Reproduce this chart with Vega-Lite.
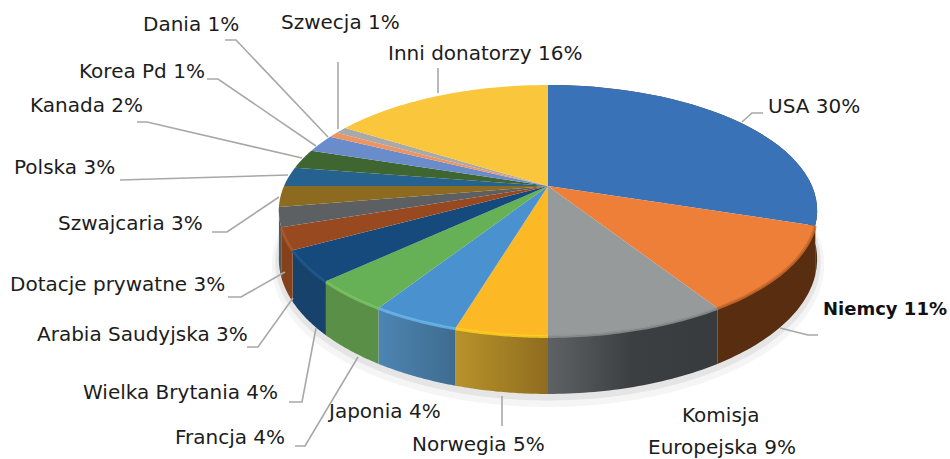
{"$schema":"https://vega.github.io/schema/vega-lite/v6.json","width":950,"height":459,"padding":0,"autosize":{"type":"none"},"background":"white","view":{"stroke":null},
"datasets":{
"slices":[{"ord":1,"name":"USA","share":30},{"ord":2,"name":"Niemcy","share":11},{"ord":3,"name":"Komisja Europejska","share":9},{"ord":4,"name":"Norwegia","share":4.6},{"ord":5,"name":"Japonia","share":4.4},{"ord":6,"name":"Francja","share":4},{"ord":7,"name":"Wielka Brytania","share":4},{"ord":8,"name":"Arabia Saudyjska","share":2.8},{"ord":9,"name":"Dotacje prywatne","share":2.5},{"ord":10,"name":"Szwajcaria","share":2.7},{"ord":11,"name":"Polska","share":2.5},{"ord":12,"name":"Kanada","share":2.5},{"ord":13,"name":"Korea Pd","share":2.3},{"ord":14,"name":"Dania","share":0.7},{"ord":15,"name":"Szwecja","share":0.9},{"ord":16,"name":"Inni donatorzy","share":16.1}],
"labels":[{"t":"USA 30%","x":768,"y":107},{"t":"Niemcy 11%","x":823,"y":310,"b":1},{"t":"Komisja","x":682,"y":416},{"t":"Europejska 9%","x":648,"y":448},{"t":"Norwegia 5%","x":412,"y":445},{"t":"Japonia 4%","x":329,"y":412},{"t":"Francja 4%","x":175,"y":438},{"t":"Wielka Brytania 4%","x":83,"y":393},{"t":"Arabia Saudyjska 3%","x":37,"y":335},{"t":"Dotacje prywatne 3%","x":10,"y":285},{"t":"Szwajcaria 3%","x":58,"y":224},{"t":"Polska 3%","x":14,"y":168},{"t":"Kanada 2%","x":30,"y":106},{"t":"Korea Pd 1%","x":79,"y":72},{"t":"Dania 1%","x":143,"y":25},{"t":"Szwecja 1%","x":281,"y":23},{"t":"Inni donatorzy 16%","x":388,"y":54}],
"leaders":[{"n":"USA","i":0,"x":742,"y":122},{"n":"USA","i":1,"x":752,"y":113},{"n":"USA","i":2,"x":763,"y":113},{"n":"Niemcy","i":0,"x":780,"y":328},{"n":"Niemcy","i":1,"x":808,"y":335},{"n":"Niemcy","i":2,"x":818,"y":335},{"n":"Norwegia","i":0,"x":502,"y":396},{"n":"Norwegia","i":1,"x":502,"y":426},{"n":"Francja","i":0,"x":358,"y":357},{"n":"Francja","i":1,"x":305,"y":446},{"n":"Francja","i":2,"x":295,"y":446},{"n":"WB","i":0,"x":316,"y":328},{"n":"WB","i":1,"x":302,"y":402},{"n":"WB","i":2,"x":289,"y":402},{"n":"Arabia","i":0,"x":293,"y":298},{"n":"Arabia","i":1,"x":258,"y":347},{"n":"Arabia","i":2,"x":247,"y":347},{"n":"Dotacje","i":0,"x":285,"y":272},{"n":"Dotacje","i":1,"x":241,"y":297},{"n":"Dotacje","i":2,"x":228,"y":297},{"n":"Szwajcaria","i":0,"x":279,"y":197},{"n":"Szwajcaria","i":1,"x":227,"y":232},{"n":"Szwajcaria","i":2,"x":212,"y":232},{"n":"Polska","i":0,"x":288,"y":175},{"n":"Polska","i":1,"x":120,"y":180},{"n":"Kanada","i":0,"x":302,"y":158},{"n":"Kanada","i":1,"x":147,"y":122},{"n":"Kanada","i":2,"x":137,"y":122},{"n":"Korea","i":0,"x":316,"y":146},{"n":"Korea","i":1,"x":218,"y":79},{"n":"Korea","i":2,"x":207,"y":79},{"n":"Dania","i":0,"x":328,"y":137},{"n":"Dania","i":1,"x":236,"y":40},{"n":"Dania","i":2,"x":225,"y":40},{"n":"Szwecja","i":0,"x":338,"y":129},{"n":"Szwecja","i":1,"x":338,"y":62},{"n":"Inni","i":0,"x":438,"y":93},{"n":"Inni","i":1,"x":438,"y":68}]
},
"data":{"name":"slices"},
"transform":[
{"window":[{"op":"sum","field":"share","as":"cum"}],"sort":[{"field":"ord"}]},
{"calculate":"datum.cum-datum.share","as":"start"},
{"calculate":"sequence(-1,37)","as":"t"},
{"flatten":["t"]},
{"calculate":"2*PI*(datum.start+datum.share*max(datum.t,0)/36)/100","as":"phi"},
{"calculate":"-cos(datum.phi)","as":"v"},
{"calculate":"1-0.195*datum.v","as":"w"},
{"calculate":"548+264*sin(datum.phi)/datum.w","as":"rx"},
{"calculate":"186+120.7*datum.v/datum.w","as":"ry"},
{"calculate":"datum.t<0?548:datum.rx","as":"px"},
{"calculate":"datum.t<0?186:datum.ry","as":"py"},
{"calculate":"[0,1]","as":"lvl"},
{"calculate":"datum.ry+46.7/datum.w","as":"by"}
],
"encoding":{"x":{"type":"quantitative","scale":{"domain":[0,950],"nice":false},"axis":null},"y":{"type":"quantitative","scale":{"domain":[0,459],"nice":false,"reverse":true},"axis":null}},
"layer":[
{"transform":[{"filter":"datum.t>=0 && datum.v>-0.1"},{"calculate":"datum.by+6","as":"sy"}],"mark":{"type":"line","stroke":"#777","opacity":0.07,"strokeWidth":14},"encoding":{"x":{"field":"rx"},"y":{"field":"sy"},"detail":{"field":"ord"},"order":{"field":"t"}}},
{"transform":[{"filter":"datum.t>=0 && datum.v>-0.1"},{"calculate":"datum.by+3","as":"sy"}],"mark":{"type":"line","stroke":"#555","opacity":0.1,"strokeWidth":7},"encoding":{"x":{"field":"rx"},"y":{"field":"sy"},"detail":{"field":"ord"},"order":{"field":"t"}}},
{"transform":[{"filter":"datum.t>=0 && datum.ord<=9 && datum.ord!=3 && datum.ord!=4 && datum.ord!=5"},{"flatten":["lvl"]},{"calculate":"datum.ry+datum.lvl*46.7/datum.w","as":"sy"},{"calculate":"datum.lvl==0?datum.t:100-datum.t","as":"o"}],
"mark":{"type":"line","filled":true},
"encoding":{"x":{"field":"rx"},"y":{"field":"sy"},"order":{"field":"o"},"detail":{"field":"ord"},"color":{"field":"name","type":"nominal","legend":null,"scale":{"domain":["USA","Niemcy","Francja","Wielka Brytania","Arabia Saudyjska","Dotacje prywatne"],"range":["#4a3420","#592d10","#5a8f47","#17426b","#85421a","#55585a"]}}}},
{"transform":[{"filter":"datum.t>=0 && datum.ord==3"},{"flatten":["lvl"]},{"calculate":"datum.ry+datum.lvl*46.7/datum.w","as":"sy"},{"calculate":"datum.lvl==0?datum.t:100-datum.t","as":"o"}],
"mark":{"type":"line","filled":true,"fill":{"gradient":"linear","x1":0,"x2":1,"y1":0,"y2":0,"stops":[{"offset":0,"color":"#5f6265"},{"offset":0.5,"color":"#3c3f42"},{"offset":1,"color":"#383b3e"}]}},
"encoding":{"x":{"field":"rx"},"y":{"field":"sy"},"order":{"field":"o"}}},
{"transform":[{"filter":"datum.t>=0 && datum.ord==4"},{"flatten":["lvl"]},{"calculate":"datum.ry+datum.lvl*46.7/datum.w","as":"sy"},{"calculate":"datum.lvl==0?datum.t:100-datum.t","as":"o"}],
"mark":{"type":"line","filled":true,"fill":{"gradient":"linear","x1":0,"x2":1,"y1":0,"y2":0,"stops":[{"offset":0,"color":"#b8922a"},{"offset":1,"color":"#8f6d20"}]}},
"encoding":{"x":{"field":"rx"},"y":{"field":"sy"},"order":{"field":"o"}}},
{"transform":[{"filter":"datum.t>=0 && datum.ord==5"},{"flatten":["lvl"]},{"calculate":"datum.ry+datum.lvl*46.7/datum.w","as":"sy"},{"calculate":"datum.lvl==0?datum.t:100-datum.t","as":"o"}],
"mark":{"type":"line","filled":true,"fill":{"gradient":"linear","x1":0,"x2":1,"y1":0,"y2":0,"stops":[{"offset":0,"color":"#4d85b3"},{"offset":1,"color":"#3e6c8f"}]}},
"encoding":{"x":{"field":"rx"},"y":{"field":"sy"},"order":{"field":"o"}}},
{"mark":{"type":"line","filled":true,"strokeWidth":0.4},
"encoding":{"x":{"field":"px"},"y":{"field":"py"},"order":{"field":"t"},"detail":{"field":"ord"},
"color":{"field":"name","type":"nominal","legend":null,"scale":{"domain":["USA","Niemcy","Komisja Europejska","Norwegia","Japonia","Francja","Wielka Brytania","Arabia Saudyjska","Dotacje prywatne","Szwajcaria","Polska","Kanada","Korea Pd","Dania","Szwecja","Inni donatorzy"],"range":["#3a72b8","#ed7f38","#979a9a","#fdb825","#4a92cf","#66b055","#174a7c","#984920","#5d6062","#8c6a20","#25628f","#3f6630","#6a8cca","#ee9460","#a9a9a9","#f9c63c"]}}}},
{"transform":[{"filter":"datum.t>=0 && datum.ord>=2 && datum.ord<=8"},{"calculate":"datum.ry+0.5","as":"hy"}],"mark":{"type":"line","strokeWidth":3,"opacity":0.85},
"encoding":{"x":{"field":"rx"},"y":{"field":"hy"},"order":{"field":"t"},"detail":{"field":"ord"},
"color":{"field":"name","type":"nominal","legend":null,"scale":{"domain":["Niemcy","Komisja Europejska","Norwegia","Japonia","Francja","Wielka Brytania","Arabia Saudyjska"],"range":["#c96a2c","#8d9090","#ffcf1e","#68b4ea","#78c264","#1e568c","#a8572a"]}}}},
{"data":{"name":"leaders"},"mark":{"type":"line","stroke":"#a8a8a8","strokeWidth":1.6},"encoding":{"x":{"field":"x"},"y":{"field":"y"},"detail":{"field":"n"},"order":{"field":"i"}}},
{"data":{"name":"labels"},"transform":[{"filter":"!datum.b"}],"mark":{"type":"text","align":"left","baseline":"middle","font":"DejaVu Sans","fontSize":20,"color":"#1c1c1c"},"encoding":{"x":{"field":"x"},"y":{"field":"y"},"text":{"field":"t"}}},
{"data":{"name":"labels"},"transform":[{"filter":"datum.b"}],"mark":{"type":"text","align":"left","baseline":"middle","font":"DejaVu Sans","fontSize":18,"fontWeight":700,"color":"#111"},"encoding":{"x":{"field":"x"},"y":{"field":"y"},"text":{"field":"t"}}}
],
"resolve":{"scale":{"color":"independent"}}
}
